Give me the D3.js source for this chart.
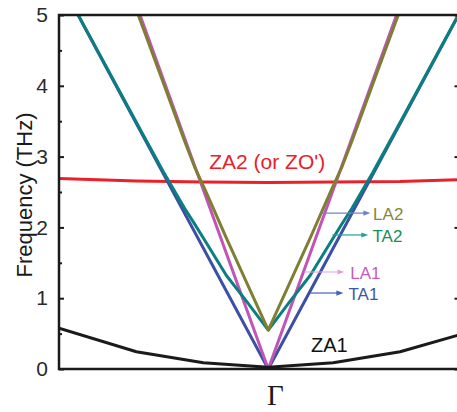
<!DOCTYPE html>
<html>
<head>
<meta charset="utf-8">
<script src="https://cdn.jsdelivr.net/npm/d3@7"></script>
<style>
  body { margin: 0; background: #fff; }
  svg { display: block; }
</style>
</head>
<body>
<svg id="chart" width="457" height="412"></svg>
<script>
// Phonon dispersion around the Γ point; k is the reduced wave vector (Γ = 0)
const yTicks = [0, 1, 2, 3, 4, 5];
const yMinorTicks = [0.5, 1.5, 2.5, 3.5, 4.5];

const kZA1 = [-1, -0.63, -0.31, 0, 0.31, 0.63, 0.91];
const fZA1 = [0.575, 0.244, 0.089, 0.024, 0.089, 0.244, 0.48];

const kZA2 = [-1, -0.63, -0.31, 0, 0.31, 0.63, 0.91];
const fZA2 = [2.69, 2.655, 2.64, 2.635, 2.64, 2.648, 2.675];

const kTA1 = [-1, 0, 1];
const fTA1 = [5.5, 0, 5.5];

const kLA1 = [-0.7, 0, 0.7];
const fLA1 = [5.71, 0, 5.71];

const kTA2 = [-1, -0.8, -0.6, -0.5, -0.4, -0.35, -0.3, -0.25, -0.2, -0.1, 0,
              0.1, 0.2, 0.25, 0.3, 0.35, 0.4, 0.5, 0.6, 0.8, 1];
const fTA2 = [5.5, 4.41, 3.32, 2.78, 2.27, 2.04, 1.80, 1.56, 1.32, 0.94, 0.55,
              0.94, 1.32, 1.56, 1.80, 2.04, 2.27, 2.78, 3.32, 4.41, 5.5];

const kLA2 = [-0.7, -0.6, -0.5, -0.4, -0.35, -0.3, -0.2, -0.1, 0,
              0.1, 0.2, 0.3, 0.35, 0.4, 0.5, 0.6, 0.7];
const fLA2 = [5.63, 4.83, 4.03, 3.22, 2.84, 2.52, 1.85, 1.20, 0.55,
              1.20, 1.85, 2.52, 2.84, 3.22, 4.03, 4.83, 5.63];

// branch callouts: label, frequency of the arrow, arrow start/end k, text k
const calloutNames = ["LA2", "TA2", "LA1", "TA1"];
const calloutFreq = [2.203, 1.893, 1.370, 1.073];
const calloutFrom = [0.254, 0.306, 0.172, 0.201];
const calloutTo = [0.488, 0.478, 0.364, 0.359];
const calloutTextK = [0.501, 0.498, 0.392, 0.383];

const plotLeft = 59, plotRight = 458.5, plotTop = 15, plotBottom = 369;

const x = d3.scaleLinear().domain([-1, 0.909]).range([plotLeft, plotRight]);
const y = d3.scaleLinear().domain([0, 5]).range([plotBottom, plotTop]);

const svg = d3.select("#chart");
const sans = "'Liberation Sans', Arial, Helvetica, sans-serif";

svg.append("defs").append("clipPath").attr("id", "plotClip")
  .append("rect")
  .attr("x", plotLeft).attr("y", plotTop)
  .attr("width", plotRight - plotLeft).attr("height", plotBottom - plotTop);

const branches = [
  { k: kZA2, f: fZA2, color: "#e8212b", width: 3 },
  { k: kTA1, f: fTA1, color: "#3b50a4", width: 3 },
  { k: kLA1, f: fLA1, color: "#c055b5", width: 3 },
  { k: kTA2, f: fTA2, color: "#0b7f80", width: 3 },
  { k: kLA2, f: fLA2, color: "#7f7f33", width: 3 },
  { k: kZA1, f: fZA1, color: "#1a1a1a", width: 3 }
];

const line = d3.line().x(d => x(d[0])).y(d => y(d[1]));

const plot = svg.append("g").attr("clip-path", "url(#plotClip)");
branches.forEach(b => {
  plot.append("path")
    .datum(d3.zip(b.k, b.f))
    .attr("d", line)
    .attr("fill", "none")
    .attr("stroke", b.color)
    .attr("stroke-width", b.width)
    .attr("stroke-linejoin", "round");
});

// frame
svg.append("rect")
  .attr("x", plotLeft).attr("y", plotTop)
  .attr("width", plotRight - plotLeft).attr("height", plotBottom - plotTop)
  .attr("fill", "none").attr("stroke", "#1a1a1a").attr("stroke-width", 2.5);

// left and right axes, ticks pointing inward
const leftAxis = d3.axisLeft(y).tickValues(yTicks).tickSize(-5).tickPadding(11)
  .tickFormat(d3.format("d"));
const gL = svg.append("g").attr("transform", `translate(${plotLeft},0)`).call(leftAxis);
gL.select(".domain").remove();
gL.selectAll(".tick line").attr("stroke", "#1a1a1a").attr("stroke-width", 2);
gL.selectAll(".tick text")
  .attr("font-family", sans).attr("font-size", 21).attr("fill", "#2a2a2a");

const leftMinor = d3.axisLeft(y).tickValues(yMinorTicks).tickSize(-3).tickFormat("");
const gLm = svg.append("g").attr("transform", `translate(${plotLeft},0)`).call(leftMinor);
gLm.select(".domain").remove();
gLm.selectAll(".tick line").attr("stroke", "#1a1a1a").attr("stroke-width", 2);

const rightAxis = d3.axisRight(y).tickValues(yTicks).tickSize(-4).tickFormat("");
const gR = svg.append("g").attr("transform", `translate(${plotRight},0)`).call(rightAxis);
gR.select(".domain").remove();
gR.selectAll(".tick line").attr("stroke", "#1a1a1a").attr("stroke-width", 2);

// y-axis title
svg.append("text")
  .attr("transform", `translate(32,${(plotTop + plotBottom) / 2 + 3}) rotate(-90)`)
  .attr("text-anchor", "middle")
  .attr("font-family", sans).attr("font-size", 22).attr("fill", "#1a1a1a")
  .text("Frequency (THz)");

// Γ point label
svg.append("text")
  .attr("x", x(0) + 7).attr("y", 405)
  .attr("text-anchor", "middle")
  .attr("font-family", "'Liberation Serif', 'Times New Roman', serif")
  .attr("font-size", 29).attr("fill", "#1a1a1a")
  .text("Γ");

// mode labels
svg.append("text")
  .attr("x", x(0) - 1).attr("y", y(2.82))
  .attr("text-anchor", "middle")
  .attr("font-family", sans).attr("font-size", 21).attr("fill", "#e8212b")
  .text("ZA2 (or ZO')");

svg.append("text")
  .attr("x", x(0.204)).attr("y", y(0.244))
  .attr("font-family", sans).attr("font-size", 20).attr("fill", "#111")
  .text("ZA1");

const arrowColors = ["#7480cc", "#22a0a0", "#e4a2da", "#4a5fb6"];
const textColors = ["#87873a", "#1b8c52", "#c55bbd", "#3d55a8"];

calloutNames.forEach((name, i) => {
  const yy = y(calloutFreq[i]);
  const x0 = x(calloutFrom[i]), x1 = x(calloutTo[i]);
  svg.append("line")
    .attr("x1", x0).attr("x2", x1 - 5)
    .attr("y1", yy).attr("y2", yy)
    .attr("stroke", arrowColors[i]).attr("stroke-width", 1.2);
  svg.append("path")
    .attr("d", `M${x1},${yy} L${x1 - 7},${yy - 2.6} L${x1 - 7},${yy + 2.6} Z`)
    .attr("fill", arrowColors[i]);
  svg.append("text")
    .attr("x", x(calloutTextK[i])).attr("y", yy + 4)
    .attr("dy", "0.15em")
    .attr("font-family", sans).attr("font-size", 17).attr("fill", textColors[i])
    .text(name);
});
</script>
</body>
</html>
